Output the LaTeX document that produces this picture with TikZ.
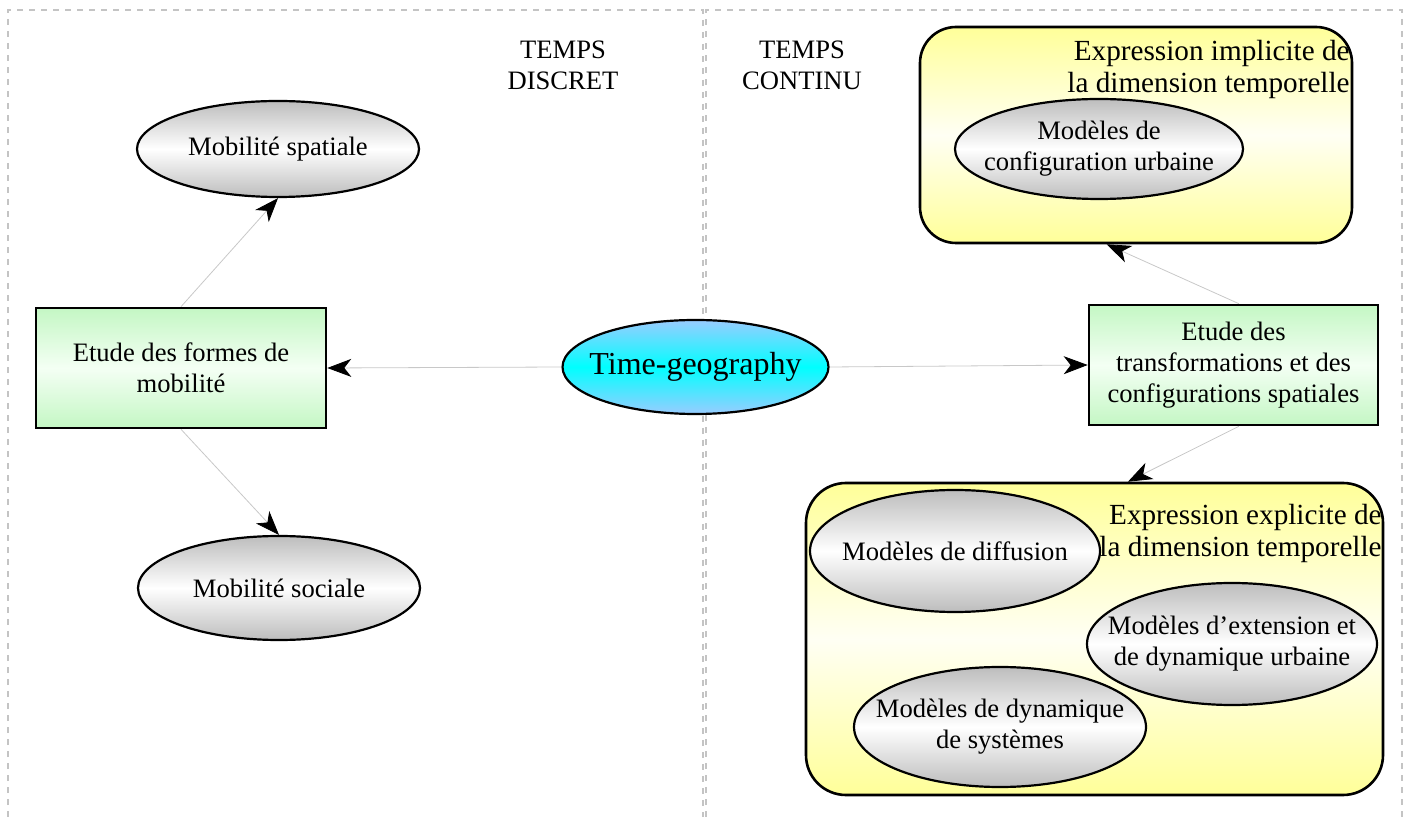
\documentclass[tikz,border=0pt]{standalone}
\usepackage{fontspec}
\setmainfont{Liberation Serif}
\usetikzlibrary{shapes.geometric,arrows.meta}
\definecolor{ovalgrey}{HTML}{BDBDBD}
\definecolor{studygreen}{HTML}{C4F7C4}
\definecolor{studylight}{HTML}{F4FFF4}
\definecolor{groupyellow}{HTML}{FFFF99}
\definecolor{grouplight}{HTML}{FFFFF4}
\definecolor{geoblue}{HTML}{99CCFF}
\definecolor{geocyan}{HTML}{00FFFF}
\definecolor{framegrey}{HTML}{C4C4C4}
\definecolor{linkgrey}{HTML}{C8C8C8}
\begin{document}
\begin{tikzpicture}[x=0.5pt,y=-0.5pt,
  every node/.style={font=\fontsize{13.3}{15.5}\selectfont},
  oval/.style={ellipse,draw,line width=1.1pt,inner xsep=-40pt,inner ysep=0pt,align=center,top color=ovalgrey,bottom color=ovalgrey,middle color=white},
  study/.style={rectangle,draw,line width=1.3pt,inner sep=0pt,minimum width=145pt,minimum height=60pt,align=center,top color=studygreen,bottom color=studygreen,middle color=studylight},
  group/.style={rectangle,rounded corners=18pt,draw,line width=1.3pt,inner sep=0pt,top color=groupyellow,bottom color=groupyellow,middle color=grouplight},
  caption/.style={align=right,anchor=north east,inner sep=0pt,font=\fontsize{14.6}{15.8}\selectfont},
  frame/.style={draw=framegrey,dashed,line width=0.6pt},
  link/.style={draw=linkgrey,line width=0.4pt,-{Stealth[length=12pt,width=9pt,inset=3.5pt,color=black]}}]
\useasboundingbox (0,0) rectangle (1408,817);
\draw[frame] (8,817) |- (703,10) -- (703,817);
\draw[frame] (706,817) |- (1402,10) -- (1402,817);
\node[align=center] (discret) at (563,65) {TEMPS\\DISCRET};
\node[align=center] (continu) at (802,65) {TEMPS\\CONTINU};
\node[group,minimum width=216pt,minimum height=108pt] (implicit) at (1136,135) {};
\node[caption] (implabel) at (1350,40) {Expression implicite de\\la dimension temporelle};
\node[group,minimum width=288.5pt,minimum height=156pt,rounded corners=20pt] (explicit) at (1094.5,639) {};
\node[caption] (explabel) at (1382,504) {Expression explicite de\\la dimension temporelle};
\node[oval,minimum width=141pt,minimum height=48pt] (mobspat) at (278,149) {Mobilité spatiale};
\node[oval,minimum width=141pt,minimum height=52pt] (mobsoc) at (279,588) {Mobilité sociale};
\node[study] (formes) at (181,368) {Etude des formes de\\mobilité};
\node[oval,minimum width=133pt,minimum height=47pt,top color=geoblue,bottom color=geoblue,middle color=geocyan,font=\fontsize{16}{18}\selectfont] (timegeo) at (695.5,367) {Time-geography};
\node[study,minimum width=144.5pt] (transfo) at (1233.5,365) {Etude des\\transformations et des\\configurations spatiales};
\node[oval,minimum width=144pt,minimum height=50pt] (confurb) at (1099,149) {Modèles de\\configuration urbaine};
\node[oval,minimum width=145pt,minimum height=61pt] (diffusion) at (955,551) {Modèles de diffusion};
\node[oval,minimum width=145pt,minimum height=61pt] (extension) at (1232,644) {Modèles d’extension et\\de dynamique urbaine};
\node[oval,minimum width=146pt,minimum height=60pt] (dynsys) at (1000,727) {Modèles de dynamique\\de systèmes};
\draw[link] (formes.north) -- (mobspat.south);
\draw[link] (formes.south) -- (mobsoc.north);
\draw[link] (timegeo.west) -- (formes.east);
\draw[link] (timegeo.east) -- (transfo.west);
\draw[link] (transfo.85) -- (implicit.255);
\draw[link] (transfo.-85) -- (explicit.78);
\end{tikzpicture}
\end{document}
